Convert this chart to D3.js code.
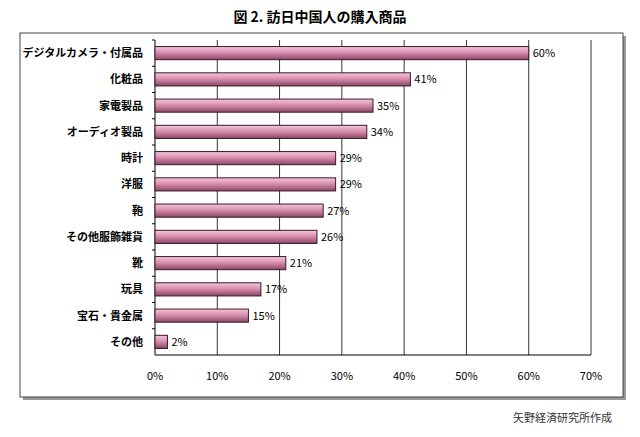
<!DOCTYPE html><html><head><meta charset="utf-8"><script src="https://cdn.jsdelivr.net/npm/d3@7"></script>
<style>body{margin:0;background:#fff}text{font-family:"Noto Sans CJK JP",sans-serif}</style></head><body><svg id="c" width="640" height="437"></svg>
<script>
const categories=["デジタルカメラ・付属品","化粧品","家電製品","オーディオ製品","時計","洋服","鞄","その他服飾雑貨","靴","玩具","宝石・貴金属","その他"];
const values=[60,41,35,34,29,29,27,26,21,17,15,2];
const ticks=[0,10,20,30,40,50,60,70];
const svg=d3.select("#c");
const defs=svg.append("defs");
const g=defs.append("linearGradient").attr("id","gr").attr("x1",0).attr("y1",0).attr("x2",0).attr("y2",1);
g.append("stop").attr("offset","0").attr("stop-color","#f4c6da");
g.append("stop").attr("offset","0.45").attr("stop-color","#d98fb0");
g.append("stop").attr("offset","1").attr("stop-color","#8a4665");
svg.append("rect").attr("x",23).attr("y",36).attr("width",603).attr("height",364).attr("fill","#999");
svg.append("rect").attr("x",20).attr("y",33).attr("width",603).attr("height",364).attr("fill","#fff").attr("stroke","#444");
svg.append("text").attr("x",320).attr("y",22).attr("text-anchor","middle").attr("font-size",14).attr("font-weight","bold").text("図 2. 訪日中国人の購入商品");
const x=d3.scaleLinear().domain([0,70]).range([155,591]);
const y=d3.scaleBand().domain(categories).range([40,355]).paddingInner(0.5).paddingOuter(0.25);
const plot=svg.append("g");
plot.selectAll("line.g").data(ticks.slice(1)).join("line").attr("x1",d=>x(d)).attr("x2",d=>x(d)).attr("y1",40).attr("y2",355).attr("stroke","#000").attr("stroke-width",0.8);
plot.append("line").attr("x1",155).attr("x2",591).attr("y1",355).attr("y2",355).attr("stroke","#000");
plot.append("line").attr("x1",155).attr("x2",155).attr("y1",40).attr("y2",355).attr("stroke","#000");
const step=y.step();
categories.forEach((c,i)=>{plot.append("line").attr("x1",152).attr("x2",155).attr("y1",40+step*i).attr("y2",40+step*i).attr("stroke","#000");});
plot.selectAll("rect.b").data(values).join("rect").attr("x",x(0)).attr("y",(d,i)=>y(categories[i])).attr("width",d=>x(d)-x(0)).attr("height",y.bandwidth()).attr("fill","url(#gr)").attr("stroke","#3a1a28").attr("stroke-width",1);
plot.selectAll("text.v").data(values).join("text").attr("x",d=>x(d)+4).attr("y",(d,i)=>y(categories[i])+y.bandwidth()/2+4).attr("font-size",11).text(d=>d+"%");
plot.selectAll("text.c").data(categories).join("text").attr("x",143).attr("y",d=>y(d)+y.bandwidth()/2+4).attr("text-anchor","end").attr("font-size",11).attr("font-weight","bold").text(d=>d);
plot.selectAll("text.t").data(ticks).join("text").attr("x",d=>x(d)).attr("y",380).attr("text-anchor","middle").attr("font-size",11).text(d=>d+"%");
svg.append("text").attr("x",612).attr("y",422).attr("text-anchor","end").attr("font-size",11).attr("fill","#333").text("矢野経済研究所作成");
</script></body></html>
